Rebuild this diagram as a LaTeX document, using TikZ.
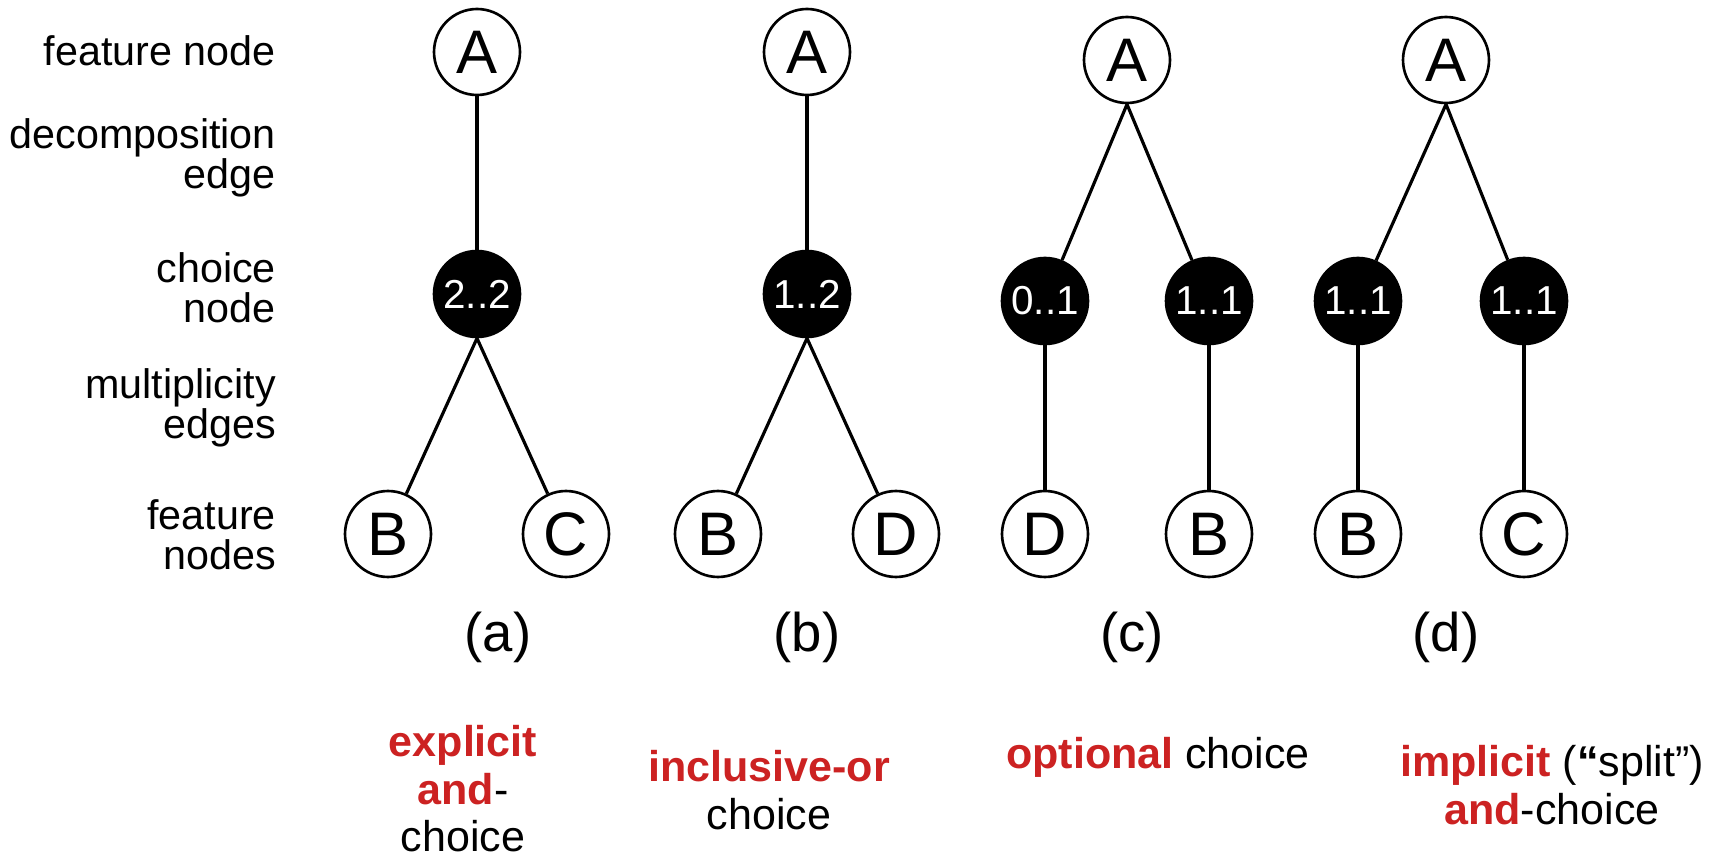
\documentclass[tikz,border=0pt]{standalone}
\usepackage{fontspec}
\setmainfont{Liberation Sans}
\definecolor{hired}{RGB}{204,34,34}

\begin{document}
\begin{tikzpicture}[x=0.02cm, y=-0.02cm]
  \tikzset{
    fnode/.style={
      draw, circle, line width=1.5pt, minimum size=1.72cm, inner sep=0pt,
      font=\fontsize{35}{35}\selectfont
    },
    cnode/.style={
      fnode, fill=black, text=white, font=\fontsize{23}{23}\selectfont
    },
    link/.style={
      line width=1.8pt
    },
    lbl/.style={
      align=right, anchor=east, font=\fontsize{23.5}{23}\selectfont
    },
    note/.style={
      align=center, inner sep=0pt, font=\fontsize{24.5}{27}\selectfont
    }
  }
  \useasboundingbox (0,0) rectangle (1715,861);

  % legend on the left
  \node [lbl] (l1) at (282, 51) {feature node};
  \node [lbl] (l2) at (282, 158) {decomposition\\edge};
  \node [lbl] (l3) at (282, 288) {choice\\node};
  \node [lbl] (l4) at (282, 408) {multiplicity\\edges};
  \node [lbl] (l5) at (282, 535) {feature\\nodes};

  % (a) and (b): one choice node
  \foreach \t/\x/\m/\l/\r in {a/477/2..2/B/C, b/807/1..2/B/D} {
    \node [fnode] (A\t) at (\x, 52) {A};
    \node [cnode] (ch\t) at (\x, 294) {\m};
    \node [fnode] (L\t) at (\x-89, 534) {\l};
    \node [fnode] (R\t) at (\x+89, 534) {\r};
    \draw [link] (A\t) -- (ch\t);
    \draw [link] (ch\t.south) -- (L\t);
    \draw [link] (ch\t.south) -- (R\t);
  }

  % (c) and (d): two choice nodes
  \foreach \t/\x/\xl/\xr/\ml/\mr/\l/\r in {c/1127/1045/1209/0..1/1..1/D/B, d/1446/1358/1524/1..1/1..1/B/C} {
    \node [fnode] (A\t) at (\x, 60) {A};
    \node [cnode] (cl\t) at (\xl, 301) {\ml};
    \node [cnode] (cr\t) at (\xr, 301) {\mr};
    \node [fnode] (L\t) at (\xl, 534) {\l};
    \node [fnode] (R\t) at (\xr, 534) {\r};
    \draw [link] (A\t.south) -- (cl\t);
    \draw [link] (A\t.south) -- (cr\t);
    \draw [link] (cl\t) -- (L\t);
    \draw [link] (cr\t) -- (R\t);
  }

  \foreach \t/\x in {a/498, b/807, c/1132, d/1446} {
    \node [font=\fontsize{31}{31}\selectfont] (cap\t) at (\x, 637) {(\t)};
  }

  % what each one means
  \node [note] (na) at (463, 789) {\textcolor{hired}{\bfseries explicit}\\\textcolor{hired}{\bfseries and}-\\choice};
  \node [note] (nb) at (769, 790) {\textcolor{hired}{\bfseries inclusive-or}\\choice};
  \node [note] (nc) at (1158, 757) {\textcolor{hired}{\bfseries optional} choice};
  \node [note] (nd) at (1552, 785) {\textcolor{hired}{\bfseries implicit} ({\bfseries “}split”)\\\textcolor{hired}{\bfseries and}-choice};
\end{tikzpicture}
\end{document}
